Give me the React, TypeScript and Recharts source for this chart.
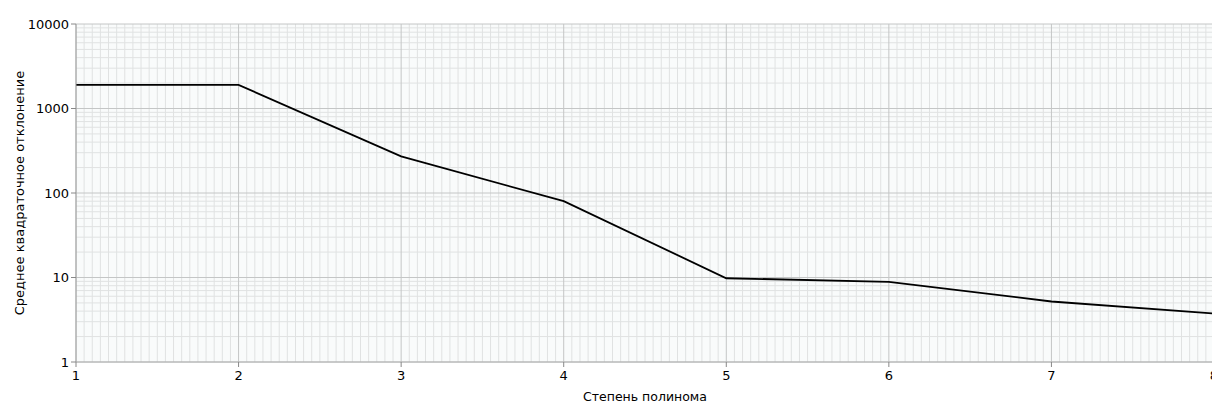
import React from "react";
import { LineChart, Line, XAxis, YAxis, CartesianGrid, ReferenceLine, Label } from "recharts";

const degrees = [1, 2, 3, 4, 5, 6, 7, 8];
const deviation = [1900, 1900, 271, 80, 9.8, 8.9, 5.2, 3.75];
const xTicks = [1, 2, 3, 4, 5, 6, 7, 8];
const yTicks = [1, 10, 100, 1000, 10000];
const xMinorSteps = 20;
const yMinorMultipliers = [2, 3, 4, 5, 6, 7, 8, 9];

const data = degrees.map((d, i) => ({ degree: d, value: deviation[i] }));

const xMinor: number[] = [];
for (let u = 1; u < 8; u++) {
  for (let k = 1; k < xMinorSteps; k++) xMinor.push(u + k / xMinorSteps);
}
const yMinor: number[] = [];
for (let i = 0; i < yTicks.length - 1; i++) {
  for (const m of yMinorMultipliers) yMinor.push(yTicks[i] * m);
}

const FONT = "DejaVu Sans, Verdana, sans-serif";
const TICK_SIZE = 13;

const XTick = (props: any) => {
  const { x, y, payload } = props;
  return (
    <text x={x} y={y} dy="0.75em" textAnchor="middle" fill="#000" fontSize={TICK_SIZE} fontFamily={FONT}>
      {payload.value}
    </text>
  );
};

const YTick = (props: any) => {
  const { x, y, payload } = props;
  return (
    <text x={x} y={y} dy="0.36em" textAnchor="end" fill="#000" fontSize={TICK_SIZE} fontFamily={FONT}>
      {payload.value}
    </text>
  );
};

export default function App() {
  return (
    <LineChart
      width={1212}
      height={400}
      data={data}
      margin={{ top: 16, right: 6, bottom: 16, left: 0 }}
    >
      <CartesianGrid fill="#f9fbfb" stroke="none" horizontal={false} vertical={false} />
      {xMinor.map((v) => (
        <ReferenceLine key={"xm" + v} x={v} stroke="#e0e2e2" strokeWidth={1} ifOverflow="hidden" />
      ))}
      {yMinor.map((v) => (
        <ReferenceLine key={"ym" + v} y={v} stroke="#e0e2e2" strokeWidth={1} ifOverflow="hidden" />
      ))}
      {xTicks.map((v) => (
        <ReferenceLine key={"xM" + v} x={v} stroke="#c4c6c6" strokeWidth={1} />
      ))}
      {yTicks.map((v) => (
        <ReferenceLine key={"yM" + v} y={v} stroke="#c4c6c6" strokeWidth={1} />
      ))}
      <XAxis
        xAxisId="minor"
        type="number"
        domain={[1, 8]}
        ticks={xMinor}
        height={0}
        tickSize={3}
        axisLine={false}
        tickLine={{ stroke: "#a0a0a0" }}
        tick={false}
      />
      <XAxis
        dataKey="degree"
        type="number"
        domain={[1, 8]}
        ticks={xTicks}
        height={30}
        tickSize={5}
        tickMargin={3}
        axisLine={{ stroke: "#b0b0b0" }}
        tickLine={{ stroke: "#888" }}
        tick={<XTick />}
      >
        <Label
          value="Степень полинома"
          position="insideBottom"
          offset={-9}
          style={{ fill: "#000", fontSize: 12.5, fontFamily: FONT }}
        />
      </XAxis>
      <YAxis
        scale="log"
        domain={[1, 10000]}
        ticks={yTicks}
        allowDataOverflow
        width={68}
        tickSize={5}
        tickMargin={2}
        axisLine={{ stroke: "#a0a0a0" }}
        tickLine={{ stroke: "#888" }}
        tick={<YTick />}
      >
        <Label
          value="Среднее квадраточное отклонение"
          angle={-90}
          position="insideLeft"
          offset={11}
          style={{ fill: "#000", fontSize: 13, fontFamily: FONT, textAnchor: "middle" }}
        />
      </YAxis>
      <Line
        type="linear"
        dataKey="value"
        stroke="#000"
        strokeWidth={1.8}
        dot={false}
        activeDot={false}
        isAnimationActive={false}
      />
    </LineChart>
  );
}
